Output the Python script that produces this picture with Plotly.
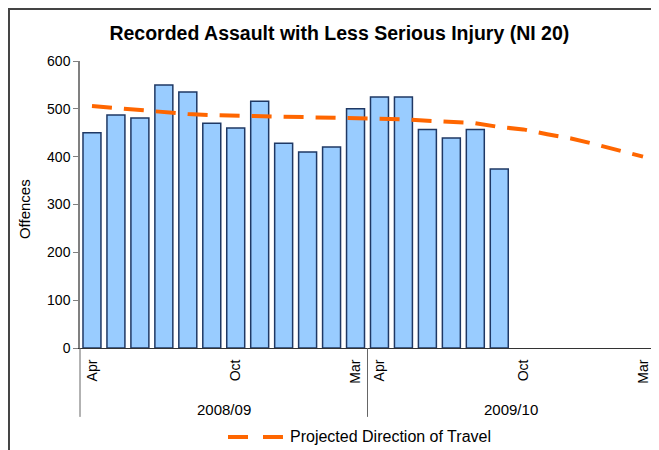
import plotly.graph_objects as go

months = ["Apr", "May", "Jun", "Jul", "Aug", "Sep", "Oct", "Nov", "Dec", "Jan", "Feb", "Mar"]
years = ["2008/09", "2009/10"]
categories = [f"{m} {y}" for y in years for m in months]

offences = [450, 487, 481, 550, 535, 470, 460, 516, 428, 410, 420, 500,
            525, 525, 457, 439, 457, 374]

projected = [506, 502, 497, 492, 489, 487, 486, 486, 485, 484, 481, 481,
             480, 478, 475, 472, 470, 462, 457, 447, 438, 426, 413, 400]

tick_labels = ["Apr", "Oct", "Mar", "Apr", "Oct", "Mar"]
tick_idx = [0, 6, 11, 12, 18, 23]

legend_label = "Projected Direction of Travel"

x_bars = list(range(len(offences)))
x_line = list(range(len(projected)))

FONT = "Liberation Sans, Arial, sans-serif"
ORANGE = "#FF6600"
DASH = "20px,12px"

fig = go.Figure()
fig.add_trace(go.Bar(
    x=x_bars, y=offences,
    marker=dict(color="#99CCFF", line=dict(color="#1F3864", width=1.5)),
    showlegend=False, hovertext=categories[:len(offences)],
))
fig.add_trace(go.Scatter(
    x=x_line, y=projected, mode="lines",
    line=dict(color=ORANGE, width=4, dash=DASH),
    name=legend_label, showlegend=False,
))

shapes = []
# group dividers below axis
for xp in [0, 0.5, 1.0]:
    shapes.append(dict(type="line", xref="paper", yref="paper",
                       x0=xp, x1=xp, y0=0, y1=-0.24,
                       line=dict(color="#666666", width=1)))
# outer frame
shapes.append(dict(type="rect", xref="paper", yref="paper",
                   x0=-0.1235, x1=1.1, y0=1.1812, y1=-0.6,
                   line=dict(color="#444444", width=2)))
# legend key
shapes.append(dict(type="line", xref="paper", yref="paper",
                   x0=0.2574, x1=0.3530, y0=-0.3101, y1=-0.3101,
                   line=dict(color=ORANGE, width=4, dash="20px,15px")))

annotations = [
    dict(text=years[0], x=0.25, y=-0.216, xref="paper", yref="paper",
         xanchor="center", yanchor="middle",
         showarrow=False, font=dict(size=15, color="black", family=FONT)),
    dict(text=years[1], x=0.75, y=-0.216, xref="paper", yref="paper",
         xanchor="center", yanchor="middle",
         showarrow=False, font=dict(size=15, color="black", family=FONT)),
    dict(text="Offences", x=-0.0974, y=0.484, xref="paper", yref="paper",
         xanchor="center", yanchor="middle",
         textangle=-90, showarrow=False,
         font=dict(size=15, color="black", family=FONT)),
    dict(text=legend_label, x=0.3617, y=-0.3101, xref="paper", yref="paper",
         xanchor="left", yanchor="middle", showarrow=False,
         font=dict(size=16, color="black", family=FONT)),
]

fig.update_layout(
    width=651, height=442,
    margin=dict(l=72, r=4, t=53, b=102, autoexpand=False),
    paper_bgcolor="white", plot_bgcolor="white",
    font=dict(family=FONT, size=14, color="black"),
    title=dict(text="<b>Recorded Assault with Less Serious Injury (NI 20)</b>",
               x=0.509, xanchor="center", y=0.9434, yanchor="middle",
               font=dict(size=19.5, color="black", family=FONT)),
    bargap=0.25,
    showlegend=False,
    xaxis=dict(range=[-0.5, 23.5], tickmode="array", tickvals=tick_idx,
               ticktext=tick_labels, tickangle=-90, ticks="", automargin=False,
               ticklabelstandoff=5,
               showline=True, linecolor="#333333", linewidth=1,
               showgrid=False, zeroline=False,
               tickfont=dict(size=14, color="black", family=FONT)),
    yaxis=dict(range=[0, 600], dtick=100, ticks="outside", ticklen=5,
               tickcolor="#808080", showline=True, linecolor="#808080",
               linewidth=1.5, showgrid=False, zeroline=False, automargin=False,
               tickfont=dict(size=14, color="black", family=FONT)),
    shapes=shapes, annotations=annotations,
)

fig.write_html("out.html")
